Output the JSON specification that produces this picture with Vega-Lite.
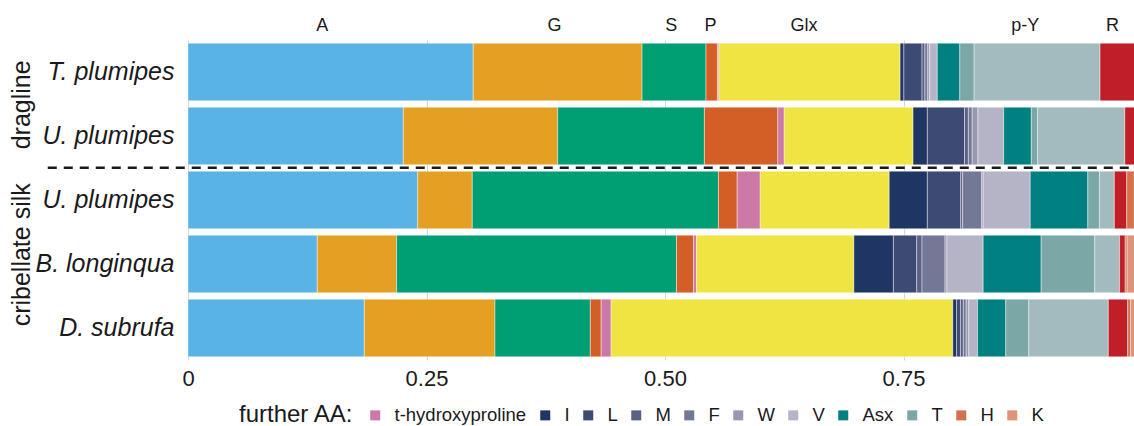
{
  "$schema": "https://vega.github.io/schema/vega-lite/v6.json",
  "width": 954,
  "height": 320,
  "autosize": "none",
  "padding": {"left": 188, "top": 40, "right": 0, "bottom": 66},
  "background": "white",
  "layer": [
    {
      "data": {
        "values": [
          {"sample": "dragline: T. plumipes", "aa": "A", "value": 0.299},
          {"sample": "dragline: T. plumipes", "aa": "G", "value": 0.177},
          {"sample": "dragline: T. plumipes", "aa": "S", "value": 0.067},
          {"sample": "dragline: T. plumipes", "aa": "P", "value": 0.012},
          {"sample": "dragline: T. plumipes", "aa": "t-hydroxyproline", "value": 0.0015},
          {"sample": "dragline: T. plumipes", "aa": "Glx", "value": 0.190},
          {"sample": "dragline: T. plumipes", "aa": "I", "value": 0.004},
          {"sample": "dragline: T. plumipes", "aa": "L", "value": 0.019},
          {"sample": "dragline: T. plumipes", "aa": "M", "value": 0.003},
          {"sample": "dragline: T. plumipes", "aa": "F", "value": 0.003},
          {"sample": "dragline: T. plumipes", "aa": "W", "value": 0.002},
          {"sample": "dragline: T. plumipes", "aa": "V", "value": 0.008},
          {"sample": "dragline: T. plumipes", "aa": "Asx", "value": 0.0236},
          {"sample": "dragline: T. plumipes", "aa": "T", "value": 0.015},
          {"sample": "dragline: T. plumipes", "aa": "p-Y", "value": 0.132},
          {"sample": "dragline: T. plumipes", "aa": "R", "value": 0.044},

          {"sample": "dragline: U. plumipes", "aa": "A", "value": 0.2257},
          {"sample": "dragline: U. plumipes", "aa": "G", "value": 0.1618},
          {"sample": "dragline: U. plumipes", "aa": "S", "value": 0.1538},
          {"sample": "dragline: U. plumipes", "aa": "P", "value": 0.077},
          {"sample": "dragline: U. plumipes", "aa": "t-hydroxyproline", "value": 0.0067},
          {"sample": "dragline: U. plumipes", "aa": "Glx", "value": 0.135},
          {"sample": "dragline: U. plumipes", "aa": "I", "value": 0.015},
          {"sample": "dragline: U. plumipes", "aa": "L", "value": 0.039},
          {"sample": "dragline: U. plumipes", "aa": "M", "value": 0.004},
          {"sample": "dragline: U. plumipes", "aa": "F", "value": 0.004},
          {"sample": "dragline: U. plumipes", "aa": "W", "value": 0.006},
          {"sample": "dragline: U. plumipes", "aa": "V", "value": 0.027},
          {"sample": "dragline: U. plumipes", "aa": "Asx", "value": 0.029},
          {"sample": "dragline: U. plumipes", "aa": "T", "value": 0.0066},
          {"sample": "dragline: U. plumipes", "aa": "p-Y", "value": 0.0914},
          {"sample": "dragline: U. plumipes", "aa": "R", "value": 0.018},

          {"sample": "cribellate silk: U. plumipes", "aa": "A", "value": 0.2408},
          {"sample": "cribellate silk: U. plumipes", "aa": "G", "value": 0.0572},
          {"sample": "cribellate silk: U. plumipes", "aa": "S", "value": 0.258},
          {"sample": "cribellate silk: U. plumipes", "aa": "P", "value": 0.0197},
          {"sample": "cribellate silk: U. plumipes", "aa": "t-hydroxyproline", "value": 0.0241},
          {"sample": "cribellate silk: U. plumipes", "aa": "Glx", "value": 0.1352},
          {"sample": "cribellate silk: U. plumipes", "aa": "I", "value": 0.040},
          {"sample": "cribellate silk: U. plumipes", "aa": "L", "value": 0.035},
          {"sample": "cribellate silk: U. plumipes", "aa": "M", "value": 0.002},
          {"sample": "cribellate silk: U. plumipes", "aa": "F", "value": 0.020},
          {"sample": "cribellate silk: U. plumipes", "aa": "W", "value": 0.0015},
          {"sample": "cribellate silk: U. plumipes", "aa": "V", "value": 0.0493},
          {"sample": "cribellate silk: U. plumipes", "aa": "Asx", "value": 0.0604},
          {"sample": "cribellate silk: U. plumipes", "aa": "T", "value": 0.0122},
          {"sample": "cribellate silk: U. plumipes", "aa": "p-Y", "value": 0.0156},
          {"sample": "cribellate silk: U. plumipes", "aa": "R", "value": 0.013},
          {"sample": "cribellate silk: U. plumipes", "aa": "H", "value": 0.008},
          {"sample": "cribellate silk: U. plumipes", "aa": "K", "value": 0.008},

          {"sample": "cribellate silk: B. longinqua", "aa": "A", "value": 0.1355},
          {"sample": "cribellate silk: B. longinqua", "aa": "G", "value": 0.0832},
          {"sample": "cribellate silk: B. longinqua", "aa": "S", "value": 0.2933},
          {"sample": "cribellate silk: B. longinqua", "aa": "P", "value": 0.018},
          {"sample": "cribellate silk: B. longinqua", "aa": "t-hydroxyproline", "value": 0.003},
          {"sample": "cribellate silk: B. longinqua", "aa": "Glx", "value": 0.165},
          {"sample": "cribellate silk: B. longinqua", "aa": "I", "value": 0.0414},
          {"sample": "cribellate silk: B. longinqua", "aa": "L", "value": 0.0245},
          {"sample": "cribellate silk: B. longinqua", "aa": "M", "value": 0.0055},
          {"sample": "cribellate silk: B. longinqua", "aa": "F", "value": 0.0241},
          {"sample": "cribellate silk: B. longinqua", "aa": "W", "value": 0.002},
          {"sample": "cribellate silk: B. longinqua", "aa": "V", "value": 0.038},
          {"sample": "cribellate silk: B. longinqua", "aa": "Asx", "value": 0.0608},
          {"sample": "cribellate silk: B. longinqua", "aa": "T", "value": 0.0562},
          {"sample": "cribellate silk: B. longinqua", "aa": "p-Y", "value": 0.026},
          {"sample": "cribellate silk: B. longinqua", "aa": "R", "value": 0.0059},
          {"sample": "cribellate silk: B. longinqua", "aa": "H", "value": 0.002},
          {"sample": "cribellate silk: B. longinqua", "aa": "K", "value": 0.0156},

          {"sample": "cribellate silk: D. subrufa", "aa": "A", "value": 0.1848},
          {"sample": "cribellate silk: D. subrufa", "aa": "G", "value": 0.137},
          {"sample": "cribellate silk: D. subrufa", "aa": "S", "value": 0.0999},
          {"sample": "cribellate silk: D. subrufa", "aa": "P", "value": 0.0114},
          {"sample": "cribellate silk: D. subrufa", "aa": "t-hydroxyproline", "value": 0.0104},
          {"sample": "cribellate silk: D. subrufa", "aa": "Glx", "value": 0.3582},
          {"sample": "cribellate silk: D. subrufa", "aa": "I", "value": 0.004},
          {"sample": "cribellate silk: D. subrufa", "aa": "L", "value": 0.004},
          {"sample": "cribellate silk: D. subrufa", "aa": "M", "value": 0.003},
          {"sample": "cribellate silk: D. subrufa", "aa": "F", "value": 0.003},
          {"sample": "cribellate silk: D. subrufa", "aa": "W", "value": 0.0027},
          {"sample": "cribellate silk: D. subrufa", "aa": "V", "value": 0.0092},
          {"sample": "cribellate silk: D. subrufa", "aa": "Asx", "value": 0.0296},
          {"sample": "cribellate silk: D. subrufa", "aa": "T", "value": 0.0241},
          {"sample": "cribellate silk: D. subrufa", "aa": "p-Y", "value": 0.0834},
          {"sample": "cribellate silk: D. subrufa", "aa": "R", "value": 0.0203},
          {"sample": "cribellate silk: D. subrufa", "aa": "H", "value": 0.003},
          {"sample": "cribellate silk: D. subrufa", "aa": "K", "value": 0.012}
        ]
      },
      "transform": [
        {"calculate": "indexof(['A','G','S','P','t-hydroxyproline','Glx','I','L','M','F','W','V','Asx','T','p-Y','R','H','K'], datum.aa)", "as": "aa_rank"}
      ],
      "mark": {"type": "bar", "stroke": "white", "strokeWidth": 0.7, "strokeOpacity": 0.6},
      "encoding": {
        "x": {
          "field": "value",
          "type": "quantitative",
          "stack": "normalize",
          "scale": {"domain": [0, 1], "nice": false, "zero": true},
          "axis": {
            "orient": "bottom",
            "title": null,
            "values": [0, 0.25, 0.5, 0.75, 1],
            "labelExpr": "datum.value == 0 ? '0' : datum.value == 1 ? '1' : format(datum.value, '.2f')",
            "grid": true,
            "gridColor": "#d4d4d4",
            "gridWidth": 1,
            "domain": false,
            "ticks": false,
            "labelFontSize": 22,
            "labelPadding": 8,
            "labelColor": "#1a1a1a",
            "labelFlush": false
          }
        },
        "y": {
          "field": "sample",
          "type": "nominal",
          "scale": {
            "domain": ["dragline: T. plumipes", "dragline: U. plumipes", "cribellate silk: U. plumipes", "cribellate silk: B. longinqua", "cribellate silk: D. subrufa"],
            "paddingInner": 0.1,
            "paddingOuter": 0.05
          },
          "axis": {
            "title": null,
            "labelExpr": "split(datum.label, ': ')[1]",
            "labelFontSize": 25,
            "labelFontStyle": "italic",
            "labelColor": "#1a1a1a",
            "labelPadding": 14,
            "domain": false,
            "ticks": false,
            "grid": false
          }
        },
        "order": {"field": "aa_rank", "type": "quantitative", "sort": "ascending"},
        "color": {
          "field": "aa",
          "type": "nominal",
          "scale": {
            "domain": ["A", "G", "S", "P", "t-hydroxyproline", "Glx", "I", "L", "M", "F", "W", "V", "Asx", "T", "p-Y", "R", "H", "K"],
            "range": ["#58B3E6", "#E5A024", "#009E73", "#D45F26", "#CC79A7", "#F0E443", "#1F3564", "#3C4A74", "#5A5F86", "#737896", "#9797B1", "#B5B4C6", "#008080", "#7BA7A6", "#A3BBBE", "#C11F27", "#D5704F", "#E0927A"]
          },
          "legend": {
            "title": "further AA:",
            "values": ["t-hydroxyproline", "I", "L", "M", "F", "W", "V", "Asx", "T", "H", "K"],
            "orient": "none",
            "legendX": 51,
            "legendY": 366,
            "direction": "horizontal",
            "titleOrient": "left",
            "titleFontSize": 24,
            "titleFontWeight": "normal",
            "titleColor": "#1a1a1a",
            "titlePadding": 12,
            "labelFontSize": 18.5,
            "labelColor": "#1a1a1a",
            "labelOffset": 10,
            "columnPadding": 9,
            "symbolType": "square",
            "symbolSize": 100,
            "symbolStrokeWidth": 0,
            "symbolOpacity": 1
          }
        }
      }
    },
    {
      "data": {"values": [{"sample": "dragline: U. plumipes"}]},
      "mark": {"type": "rule", "strokeDash": [9, 7], "strokeWidth": 2.5, "color": "#1a1a1a"},
      "encoding": {
        "x": {
          "datum": -0.147,
          "type": "quantitative",
          "axis": {
            "orient": "top",
            "title": null,
            "values": [0.1402, 0.3836, 0.506, 0.5472, 0.6451, 0.877, 0.9686],
            "labelExpr": "datum.value < 0.2 ? 'A' : datum.value < 0.45 ? 'G' : datum.value < 0.52 ? 'S' : datum.value < 0.6 ? 'P' : datum.value < 0.7 ? 'Glx' : datum.value < 0.9 ? 'p-Y' : 'R'",
            "grid": false,
            "domain": false,
            "ticks": false,
            "labelFontSize": 18,
            "labelPadding": 6,
            "labelColor": "#1a1a1a"
          }
        },
        "x2": {"datum": 1.01},
        "y": {"field": "sample", "type": "nominal", "bandPosition": 1.05, "axis": null}
      }
    },
    {
      "data": {"values": [{"group": "dragline", "sample": "dragline: T. plumipes"}]},
      "mark": {"type": "text", "angle": 270, "fontSize": 25, "color": "#1a1a1a", "align": "center", "baseline": "middle"},
      "encoding": {
        "x": {"datum": -0.1735, "type": "quantitative", "axis": null},
        "y": {"field": "sample", "type": "nominal", "bandPosition": 1.07, "axis": null},
        "text": {"field": "group"}
      }
    },
    {
      "data": {"values": [{"group": "cribellate silk", "sample": "cribellate silk: B. longinqua"}]},
      "mark": {"type": "text", "angle": 270, "fontSize": 25, "color": "#1a1a1a", "align": "center", "baseline": "middle"},
      "encoding": {
        "x": {"datum": -0.1735, "type": "quantitative", "axis": null},
        "y": {"field": "sample", "type": "nominal", "bandPosition": 0.34, "axis": null},
        "text": {"field": "group"}
      }
    }
  ],
  "resolve": {"axis": {"x": "independent", "y": "independent"}},
  "config": {
    "font": "Liberation Sans",
    "view": {"stroke": null}
  }
}
